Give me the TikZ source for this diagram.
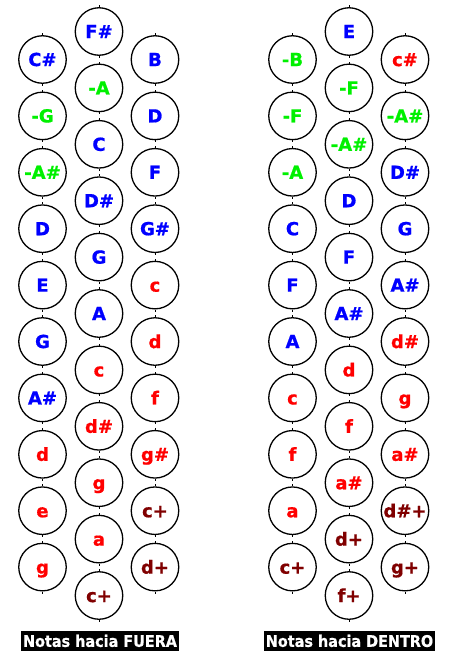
\documentclass[tikz,border=0pt]{standalone}
\usepackage{fontspec}
\setmainfont{DejaVu Sans}
\newfontfamily\keyfont{DejaVu Sans}[BoldFeatures={FakeBold=0.8}]
\newfontfamily\capfont{DejaVu Sans}[BoldFeatures={FakeStretch=0.9,FakeBold=0.6}]
\definecolor{bl}{RGB}{0,0,255}
\definecolor{gr}{RGB}{0,240,0}
\definecolor{rd}{RGB}{255,0,0}
\definecolor{dr}{RGB}{128,0,0}
\tikzset{
  key/.style={circle, draw=black, line width=1.3pt, minimum size=47.5pt, inner sep=0pt,
    font=\keyfont\bfseries\fontsize{18}{18}\selectfont, text height=13.1pt, text depth=0pt},
  tick/.style={line width=1pt},
  caption/.style={fill=black, text=white, font=\capfont\bfseries\fontsize{16}{16}\selectfont,
    inner xsep=2pt, inner ysep=0pt, minimum height=20pt, text height=11.7pt, text depth=0pt}
}
\newcommand\keycol[4]{%
  \foreach [count=\i from 0] \t/\c in {#4} {
    \node[key, text=\c] (#1\i) at (#2, {#3+56.4*\i}) {\t};
    \draw[tick] (#1\i.north) -- ++(0,-2);
    \draw[tick] (#1\i.south) -- ++(0,2);
  }}
\begin{document}
\begin{tikzpicture}[x=1pt, y=-1pt]
\useasboundingbox (0,0) rectangle (448,656);
% Notas hacia FUERA
\keycol{fl}{42.5}{59.5}{C\#/bl, -G/gr, -A\#/gr, D/bl, E/bl, G/bl, A\#/bl, d/rd, e/rd, g/rd}
\keycol{fm}{99}{31.5}{F\#/bl, -A/gr, C/bl, D\#/bl, G/bl, A/bl, c/rd, d\#/rd, g/rd, a/rd, c+/dr}
\keycol{fr}{155}{59.5}{B/bl, D/bl, F/bl, G\#/bl, c/rd, d/rd, f/rd, g\#/rd, c+/dr, d+/dr}
% Notas hacia DENTRO
\keycol{dl}{292.5}{59.5}{-B/gr, -F/gr, -A/gr, C/bl, F/bl, A/bl, c/rd, f/rd, a/rd, c+/dr}
\keycol{dm}{349}{31.5}{E/bl, -F/gr, -A\#/gr, D/bl, F/bl, A\#/bl, d/rd, f/rd, a\#/rd, d+/dr, f+/dr}
\keycol{dr}{405}{59.5}{c\#/rd, -A\#/gr, D\#/bl, G/bl, A\#/bl, d\#/rd, g/rd, a\#/rd, d\#+/dr, g+/dr}
\node[caption] (cf) at (100, 641) {Notas hacia FUERA};
\node[caption] (cd) at (349.5, 641) {Notas hacia DENTRO};
\end{tikzpicture}
\end{document}
